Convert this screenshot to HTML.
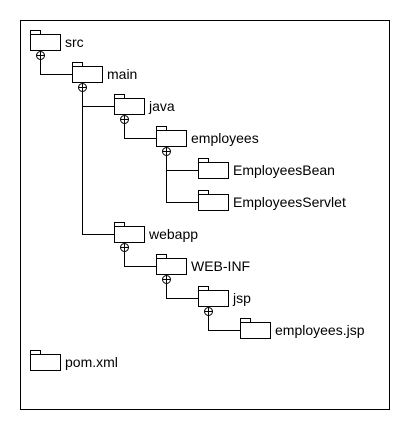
<!DOCTYPE html>
<html><head><meta charset="utf-8"><style>
html,body{margin:0;padding:0;background:#fff;width:410px;height:430px;overflow:hidden}
text{font-family:"Liberation Sans",Arial,sans-serif;font-size:14px;fill:#000}
</style></head><body>
<svg width="410" height="430" viewBox="0 0 410 430" xmlns="http://www.w3.org/2000/svg">
<rect x="20.5" y="20.5" width="369" height="389" fill="#fff" stroke="#000"/>
<g fill="none" stroke="#000" stroke-width="1">
<!-- connectors -->
<path d="M40.5 59.5V74.5H72.5"/>
<path d="M82.5 91.5V234.5H114.5M82.5 106.5H114.5"/>
<path d="M124.5 123.5V138.5H156.5"/>
<path d="M166.5 155.5V202.5H198.5M166.5 170.5H198.5"/>
<path d="M124.5 251.5V266.5H156.5"/>
<path d="M166.5 283.5V298.5H198.5"/>
<path d="M208.5 315.5V330.5H240.5"/>
</g>
<g fill="#fff" stroke="#000">
<!-- folders: tab + body -->
<path d="M30.5 30.5h10v4h-10zM30.5 34.5h30v16h-30z"/>
<path d="M72.5 62.5h10v4h-10zM72.5 66.5h30v16h-30z"/>
<path d="M114.5 94.5h10v4h-10zM114.5 98.5h30v16h-30z"/>
<path d="M156.5 126.5h10v4h-10zM156.5 130.5h30v16h-30z"/>
<path d="M198.5 158.5h10v4h-10zM198.5 162.5h30v16h-30z"/>
<path d="M198.5 190.5h10v4h-10zM198.5 194.5h30v16h-30z"/>
<path d="M114.5 222.5h10v4h-10zM114.5 226.5h30v16h-30z"/>
<path d="M156.5 254.5h10v4h-10zM156.5 258.5h30v16h-30z"/>
<path d="M198.5 286.5h10v4h-10zM198.5 290.5h30v16h-30z"/>
<path d="M240.5 318.5h10v4h-10zM240.5 322.5h30v16h-30z"/>
<path d="M30.5 350.5h10v4h-10zM30.5 354.5h30v16h-30z"/>
<!-- circles -->
<circle cx="40.5" cy="55.5" r="4"/>
<circle cx="82.5" cy="87.5" r="4"/>
<circle cx="124.5" cy="119.5" r="4"/>
<circle cx="166.5" cy="151.5" r="4"/>
<circle cx="124.5" cy="247.5" r="4"/>
<circle cx="166.5" cy="279.5" r="4"/>
<circle cx="208.5" cy="311.5" r="4"/>
</g>
<g stroke="#000" fill="none">
<path d="M37 55.5h7M40.5 52v7"/>
<path d="M79 87.5h7M82.5 84v7"/>
<path d="M121 119.5h7M124.5 116v7"/>
<path d="M163 151.5h7M166.5 148v7"/>
<path d="M121 247.5h7M124.5 244v7"/>
<path d="M163 279.5h7M166.5 276v7"/>
<path d="M205 311.5h7M208.5 308v7"/>
</g>
<g>
<text x="65" y="47">src</text>
<text x="107" y="79">main</text>
<text x="149" y="111">java</text>
<text x="191" y="143">employees</text>
<text x="233" y="175">EmployeesBean</text>
<text x="233" y="207">EmployeesServlet</text>
<text x="149" y="239">webapp</text>
<text x="191" y="271">WEB-INF</text>
<text x="233" y="303">jsp</text>
<text x="275" y="335">employees.jsp</text>
<text x="65" y="367">pom.xml</text>
</g>
</svg>
</body></html>
